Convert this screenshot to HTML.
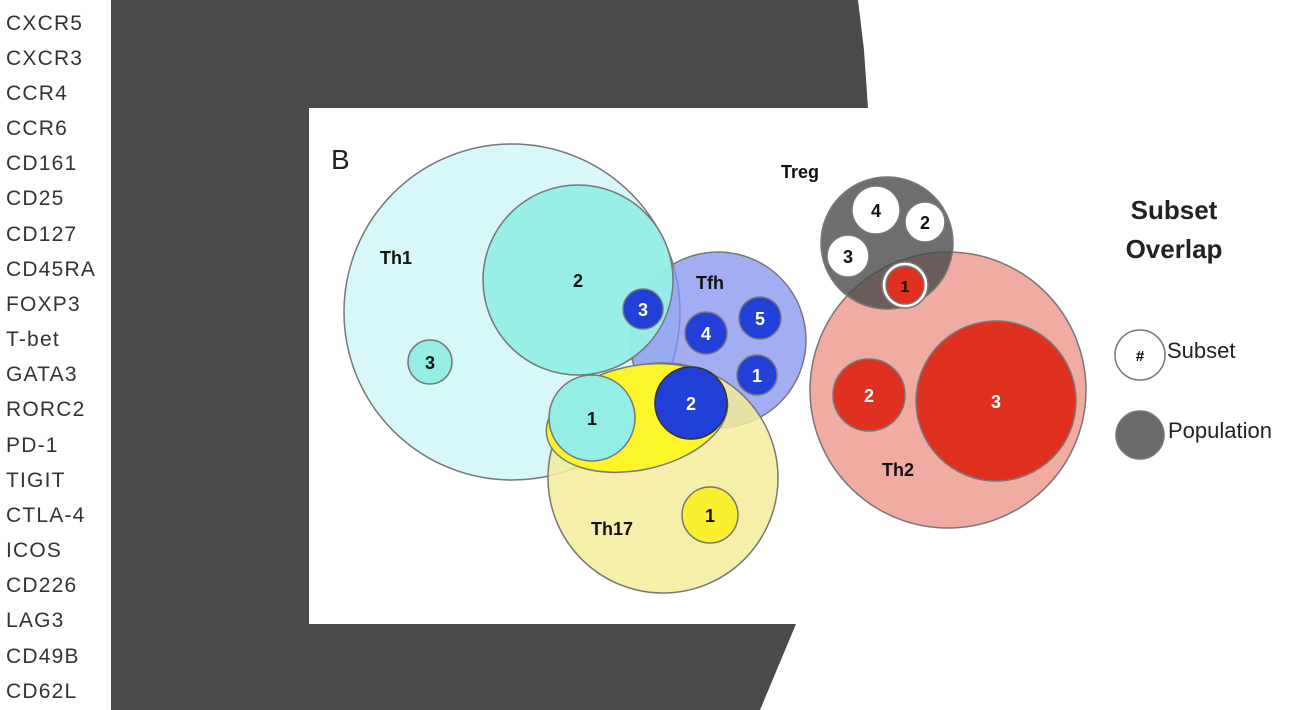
<!DOCTYPE html>
<html><head><style>
body{margin:0;width:1306px;height:710px;overflow:hidden;background:#fff;font-family:"Liberation Sans",sans-serif;}
.l{position:absolute;left:6px;font-size:21px;letter-spacing:1.2px;color:#333;line-height:24px;}
</style></head><body>
<svg width="1306" height="710" style="position:absolute;left:0;top:0" font-family="Liberation Sans, sans-serif">
<polygon points="111,0 858,0 864,50 868,108 309,108 309,624 796,624 760,710 111,710" fill="#4a4a4a"/>
<g stroke="#777" stroke-width="1.5">
<circle cx="512" cy="312" r="168" fill="#d8f7f8"/>
<circle cx="948" cy="390" r="138" fill="#f0aca2"/>
<circle cx="887" cy="243" r="66" fill="#4a4a4a" fill-opacity="0.8"/>
<circle cx="718" cy="340" r="88" fill="#8492ee" fill-opacity="0.75"/>
<circle cx="663" cy="478" r="115" fill="#f3ec9a" fill-opacity="0.85"/>
<ellipse cx="637" cy="418" rx="92" ry="52" transform="rotate(-12 637 418)" fill="#fbf52a"/>
<circle cx="578" cy="280" r="95" fill="#95eee6" fill-opacity="0.95"/>
<circle cx="430" cy="362" r="22" fill="#95eee6"/>
<circle cx="592" cy="418" r="43" fill="#95eee6"/>
<circle cx="643" cy="309" r="20" fill="#2040d8"/>
<circle cx="706" cy="333" r="21" fill="#2040d8"/>
<circle cx="760" cy="318" r="21" fill="#2040d8"/>
<circle cx="757" cy="375" r="20" fill="#2040d8"/>
<circle cx="691" cy="403" r="36" fill="#2040d8" stroke="#333"/>
<circle cx="710" cy="515" r="28" fill="#fbf030"/>
<circle cx="876" cy="210" r="24" fill="#fff"/>
<circle cx="925" cy="222" r="20" fill="#fff"/>
<circle cx="848" cy="256" r="21" fill="#fff"/>
<circle cx="905" cy="285" r="23" fill="#fff"/>
<circle cx="905" cy="285" r="19" fill="#e03020"/>
<circle cx="869" cy="395" r="36" fill="#e03020"/>
<circle cx="996" cy="401" r="80" fill="#e03020"/>
<circle cx="1140" cy="355" r="25" fill="#fff"/>
<circle cx="1140" cy="435" r="24" fill="#6a6a6a"/>
</g>
<g font-weight="bold" font-size="18" text-anchor="middle" fill="#111">
<text x="578" y="287">2</text><text x="430" y="369">3</text><text x="592" y="425">1</text>
<text x="710" y="522">1</text><text x="876" y="217">4</text><text x="925" y="229">2</text><text x="848" y="263">3</text>
<text x="396" y="264">Th1</text><text x="710" y="289">Tfh</text><text x="800" y="178">Treg</text>
<text x="612" y="535">Th17</text><text x="898" y="476">Th2</text>
</g>
<g font-weight="bold" font-size="18" text-anchor="middle" fill="#fff">
<text x="643" y="316">3</text><text x="706" y="340">4</text><text x="760" y="325">5</text><text x="757" y="382">1</text><text x="691" y="410">2</text>
<text x="869" y="402">2</text><text x="996" y="408">3</text>
</g>
<text x="905" y="292" font-weight="bold" font-size="16" text-anchor="middle" fill="#111">1</text>
<text x="331" y="169" font-size="28" fill="#222">B</text>
<g font-weight="bold" font-size="26" text-anchor="middle" fill="#222">
<text x="1174" y="219">Subset</text><text x="1174" y="258">Overlap</text>
</g>
<text x="1140" y="361" font-size="15" text-anchor="middle" font-weight="bold">#</text>
<text x="1167" y="358" font-size="22" fill="#222">Subset</text>
<text x="1168" y="438" font-size="22" fill="#222">Population</text>
</svg>
<div class="l" style="top:12px">CXCR5</div>
<div class="l" style="top:47px">CXCR3</div>
<div class="l" style="top:82px">CCR4</div>
<div class="l" style="top:117px">CCR6</div>
<div class="l" style="top:152px">CD161</div>
<div class="l" style="top:187px">CD25</div>
<div class="l" style="top:223px">CD127</div>
<div class="l" style="top:258px">CD45RA</div>
<div class="l" style="top:293px">FOXP3</div>
<div class="l" style="top:328px">T-bet</div>
<div class="l" style="top:363px">GATA3</div>
<div class="l" style="top:398px">RORC2</div>
<div class="l" style="top:434px">PD-1</div>
<div class="l" style="top:469px">TIGIT</div>
<div class="l" style="top:504px">CTLA-4</div>
<div class="l" style="top:539px">ICOS</div>
<div class="l" style="top:574px">CD226</div>
<div class="l" style="top:609px">LAG3</div>
<div class="l" style="top:645px">CD49B</div>
<div class="l" style="top:680px">CD62L</div>
</body></html>
